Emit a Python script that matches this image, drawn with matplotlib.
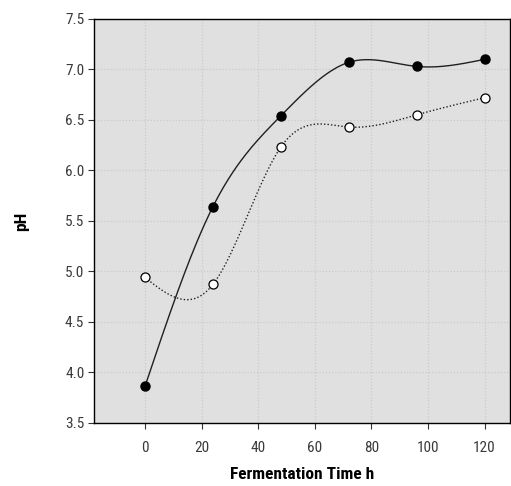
import numpy as np
import matplotlib
matplotlib.use("Agg")
import matplotlib.pyplot as plt

time_h = [0, 24, 48, 72, 96, 120]
ph_filled = [3.86, 5.64, 6.54, 7.07, 7.03, 7.10]
ph_open = [4.94, 4.87, 6.23, 6.43, 6.55, 6.72]
x_ticks = [0, 20, 40, 60, 80, 100, 120]
y_ticks = [3.5, 4.0, 4.5, 5.0, 5.5, 6.0, 6.5, 7.0, 7.5]


def natural_spline(x, y, n=300):
    x = np.asarray(x, float)
    y = np.asarray(y, float)
    m = len(x)
    h = np.diff(x)
    A = np.zeros((m, m))
    b = np.zeros(m)
    A[0, 0] = 1
    A[-1, -1] = 1
    for i in range(1, m - 1):
        A[i, i - 1] = h[i - 1]
        A[i, i] = 2 * (h[i - 1] + h[i])
        A[i, i + 1] = h[i]
        b[i] = 6 * ((y[i + 1] - y[i]) / h[i] - (y[i] - y[i - 1]) / h[i - 1])
    M = np.linalg.solve(A, b)
    xs = np.linspace(x[0], x[-1], n)
    idx = np.clip(np.searchsorted(x, xs) - 1, 0, m - 2)
    x0, x1 = x[idx], x[idx + 1]
    hh = x1 - x0
    t0 = x1 - xs
    t1 = xs - x0
    ys = (M[idx] * t0 ** 3 / (6 * hh) + M[idx + 1] * t1 ** 3 / (6 * hh)
          + (y[idx] / hh - M[idx] * hh / 6) * t0
          + (y[idx + 1] / hh - M[idx + 1] * hh / 6) * t1)
    return xs, ys


plt.rcParams['font.family'] = ['Roboto Condensed', 'Archivo Narrow', 'DejaVu Sans']

fig = plt.figure(figsize=(5.11, 4.86), dpi=100)
ax = fig.add_axes([0.184, 0.13, 0.814, 0.831])
ax.set_facecolor('#e0e0e0')

ax.grid(True, color='#cbcbcb', linestyle=(0, (1, 1.5)), linewidth=0.9)
ax.set_axisbelow(True)

xs, ys = natural_spline(time_h, ph_filled)
ax.plot(xs, ys, color='#202020', linewidth=1.0, linestyle='-')
ax.plot(time_h, ph_filled, 'o', color='black', markersize=6.5, zorder=3)

xs2, ys2 = natural_spline(time_h, ph_open)
ax.plot(xs2, ys2, color='#202020', linewidth=1.0, linestyle=(0, (1, 1.5)))
ax.plot(time_h, ph_open, 'o', markerfacecolor='white', markeredgecolor='black',
        markeredgewidth=0.9, markersize=6.5, zorder=3)

ax.set_xlim(-18, 129)
ax.set_ylim(3.5, 7.5)
ax.set_xticks(x_ticks)
ax.set_yticks(y_ticks)
ax.set_yticklabels([f"{v:.1f}" for v in y_ticks])
ax.tick_params(axis='both', direction='out', length=4, width=0.8,
               labelsize=11, labelcolor='#3a3a3a', colors='#333333')
ax.tick_params(axis='x', pad=9)
ax.tick_params(axis='y', pad=3)
for s in ax.spines.values():
    s.set_color('black')
    s.set_linewidth(1.0)

ax.set_xlabel('Fermentation Time h', fontsize=12.5, fontweight='bold', labelpad=9)
ax.set_ylabel('pH', fontsize=12.5, fontweight='bold', labelpad=26)

fig.savefig('out.png', dpi=100)
